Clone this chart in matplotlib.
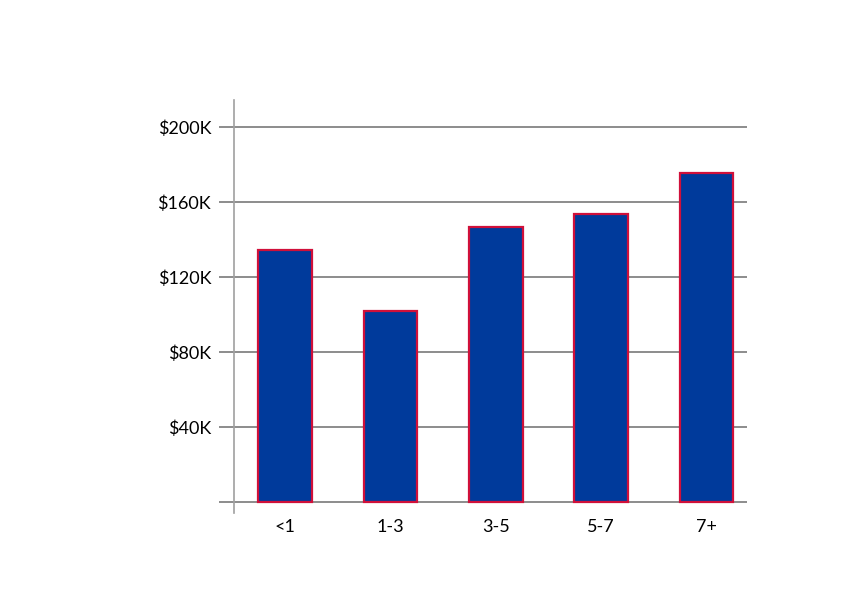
import matplotlib.pyplot as plt
from matplotlib.ticker import FuncFormatter

# years of experience buckets and average pay (in $K)
categories = ["<1", "1-3", "3-5", "5-7", "7+"]
salaries = [134.6, 102.0, 146.6, 153.7, 175.6]
y_ticks = [0, 40, 80, 120, 160, 200]


def fmt_k(v, pos):
    if v == 0:
        return ""
    return f"${int(v)}K"


def main():
    plt.rcParams["font.family"] = ["Lato", "DejaVu Sans"]

    fig = plt.figure(figsize=(8.61, 6.10), dpi=100)
    ax = fig.add_axes([234 / 861, 97 / 610, 513 / 861, 413 / 610])

    x = list(range(len(categories)))
    ax.bar(x, salaries, width=0.51, color="#003a9b",
           edgecolor="#d0103a", linewidth=1.6, zorder=3)

    ax.set_xlim(-0.484, 4.384)
    ax.set_ylim(-5.9, 214.4)
    ax.set_yticks(y_ticks)
    ax.yaxis.set_major_formatter(FuncFormatter(fmt_k))
    ax.set_xticks(x, labels=categories)

    ax.grid(axis="y", color="#8c8c8c", linewidth=1.4, zorder=1)
    ax.tick_params(axis="y", length=10.5, width=1.4, color="#8c8c8c",
                   pad=6, labelsize=13)
    ax.tick_params(axis="x", length=0, pad=4, labelsize=13)

    for side in ["top", "right", "bottom"]:
        ax.spines[side].set_visible(False)
    ax.spines["left"].set_color("#a0a0a0")
    ax.spines["left"].set_linewidth(1.2)

    fig.savefig("out.png", dpi=100)


if __name__ == "__main__":
    main()
